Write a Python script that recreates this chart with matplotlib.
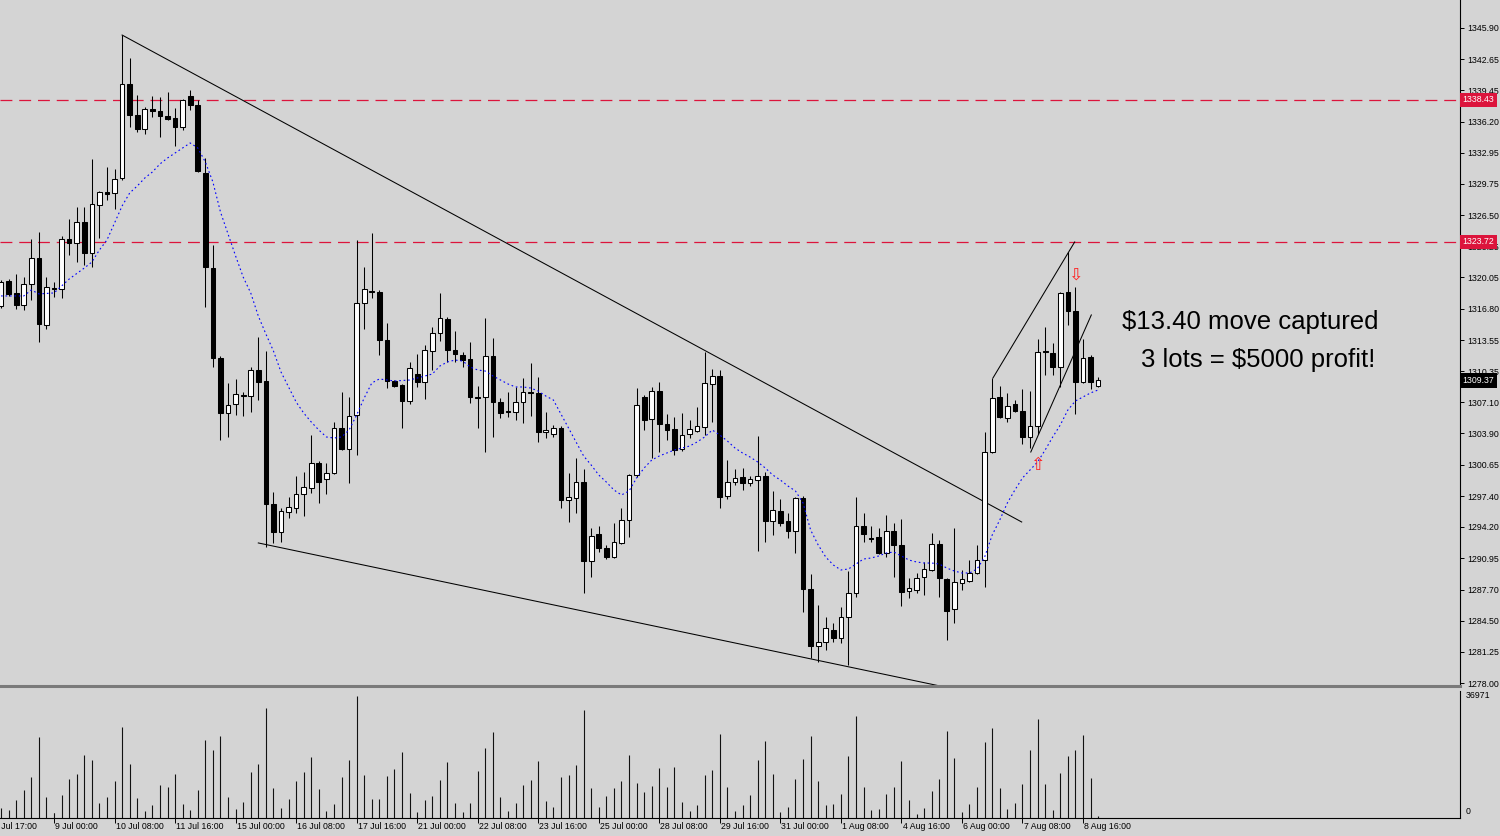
import matplotlib.pyplot as plt
import numpy as np

plt.rcParams['font.family'] = ['Liberation Sans', 'DejaVu Sans']

# H4 gold candles (bar index 0 = first bar on screen)
opens = [1317.09, 1319.68, 1318.44, 1317.19, 1319.37, 1322.06, 1315.12, 1318.96, 1318.85, 1324.03,
         1323.62, 1325.79, 1322.58, 1327.55, 1328.90, 1328.80, 1330.35, 1340.09, 1336.88, 1335.42,
         1337.50, 1337.29, 1336.77, 1336.57, 1335.63, 1338.84, 1337.91, 1330.87, 1321.02, 1311.70,
         1306.00, 1306.94, 1307.87, 1307.76, 1310.46, 1309.32, 1296.58, 1293.67, 1295.75, 1296.16,
         1297.61, 1298.23, 1300.82, 1299.17, 1299.79, 1304.45, 1302.27, 1305.80, 1317.40, 1318.64,
         1318.54, 1313.57, 1309.32, 1308.90, 1307.25, 1310.04, 1309.21, 1312.43, 1314.29, 1315.74,
         1312.53, 1312.01, 1311.60, 1307.66, 1307.66, 1311.91, 1307.14, 1306.21, 1306.11, 1307.14,
         1308.18, 1308.08, 1304.03, 1303.83, 1304.45, 1296.99, 1297.20, 1298.85, 1290.67, 1293.47,
         1292.02, 1291.08, 1292.54, 1294.92, 1299.58, 1307.66, 1305.38, 1308.28, 1304.86, 1304.35,
         1302.27, 1303.83, 1304.14, 1304.55, 1309.01, 1309.84, 1297.40, 1298.85, 1299.37, 1298.75,
         1299.06, 1299.48, 1294.81, 1295.85, 1294.81, 1293.78, 1297.20, 1287.77, 1281.86, 1282.28,
         1283.52, 1282.69, 1284.87, 1287.36, 1294.30, 1293.05, 1293.16, 1291.50, 1293.78, 1292.33,
         1287.56, 1287.67, 1289.01, 1289.74, 1292.43, 1288.80, 1285.70, 1288.39, 1288.60, 1289.43,
         1290.77, 1301.96, 1307.66, 1305.49, 1306.94, 1306.21, 1303.52, 1304.66, 1312.43, 1312.22,
         1310.77, 1318.54, 1316.57, 1309.21, 1311.80, 1308.80]
highs = [1319.78, 1319.88, 1320.41, 1320.09, 1324.03, 1324.75, 1320.09, 1319.57, 1324.34, 1326.10,
         1327.34, 1327.34, 1332.32, 1329.00, 1331.49, 1331.28, 1345.16, 1342.78, 1338.95, 1337.70,
         1338.84, 1338.74, 1339.26, 1337.60, 1338.53, 1339.47, 1338.43, 1332.42, 1323.41, 1311.91,
         1309.11, 1309.53, 1308.18, 1310.77, 1313.88, 1312.43, 1297.82, 1296.16, 1297.30, 1299.48,
         1299.89, 1303.72, 1301.03, 1300.82, 1305.07, 1308.18, 1307.66, 1323.93, 1321.13, 1324.65,
         1318.75, 1315.33, 1309.42, 1309.01, 1311.29, 1312.12, 1313.05, 1314.91, 1318.44, 1315.95,
         1314.50, 1312.32, 1313.36, 1308.80, 1315.85, 1313.77, 1307.56, 1308.18, 1308.70, 1309.63,
         1311.18, 1309.73, 1306.11, 1304.76, 1304.66, 1299.79, 1301.34, 1300.20, 1294.09, 1294.30,
         1292.33, 1294.61, 1296.16, 1299.68, 1308.59, 1307.87, 1308.70, 1309.21, 1305.90, 1305.59,
         1306.00, 1305.28, 1306.63, 1312.32, 1310.56, 1310.46, 1301.13, 1300.20, 1300.31, 1299.48,
         1303.62, 1299.89, 1297.92, 1297.09, 1295.64, 1297.30, 1297.40, 1289.32, 1286.11, 1284.87,
         1284.25, 1285.91, 1289.63, 1297.30, 1295.64, 1294.30, 1294.09, 1295.44, 1294.61, 1295.02,
         1288.91, 1289.43, 1290.57, 1293.57, 1292.85, 1288.91, 1294.09, 1289.74, 1290.77, 1292.33,
         1304.03, 1309.63, 1308.80, 1308.08, 1307.35, 1308.49, 1308.28, 1313.67, 1314.91, 1313.26,
         1318.54, 1322.68, 1319.06, 1313.67, 1312.01, 1309.73]
lows = [1316.88, 1318.13, 1316.77, 1316.67, 1317.71, 1313.36, 1314.70, 1318.02, 1317.92, 1322.37,
        1321.64, 1321.34, 1321.13, 1324.13, 1328.07, 1327.14, 1330.14, 1335.63, 1335.11, 1334.91,
        1336.67, 1334.60, 1336.36, 1333.66, 1335.32, 1337.39, 1330.97, 1316.98, 1310.77, 1303.21,
        1303.52, 1305.80, 1305.69, 1306.11, 1307.35, 1292.12, 1292.54, 1292.64, 1295.13, 1295.64,
        1295.33, 1297.72, 1296.68, 1297.61, 1299.68, 1302.17, 1298.75, 1301.65, 1314.70, 1317.92,
        1312.01, 1308.59, 1308.70, 1304.45, 1306.94, 1308.70, 1307.45, 1310.46, 1313.46, 1311.29,
        1311.29, 1310.77, 1307.04, 1304.45, 1301.96, 1303.52, 1305.49, 1305.59, 1305.28, 1304.97,
        1305.69, 1303.00, 1303.41, 1303.52, 1296.16, 1294.71, 1295.64, 1287.36, 1289.01, 1291.60,
        1290.88, 1290.98, 1292.43, 1293.16, 1299.37, 1304.24, 1301.34, 1301.96, 1303.21, 1301.65,
        1302.06, 1303.41, 1304.03, 1303.72, 1305.07, 1296.16, 1297.09, 1298.54, 1298.03, 1298.44,
        1291.71, 1292.64, 1293.36, 1294.30, 1293.05, 1291.50, 1285.39, 1280.62, 1280.21, 1281.45,
        1282.28, 1282.18, 1279.90, 1286.94, 1292.64, 1292.64, 1291.40, 1291.08, 1289.01, 1286.01,
        1286.84, 1287.36, 1287.15, 1289.63, 1286.94, 1282.49, 1284.25, 1287.67, 1288.49, 1289.32,
        1287.98, 1301.86, 1305.49, 1305.07, 1306.11, 1302.79, 1302.38, 1303.83, 1309.94, 1309.94,
        1308.70, 1315.12, 1305.90, 1309.11, 1308.49, 1308.70]
closes = [1319.57, 1318.34, 1317.19, 1319.37, 1322.06, 1315.23, 1319.06, 1318.85, 1324.03, 1323.62,
          1325.79, 1322.58, 1327.66, 1328.90, 1328.69, 1330.25, 1340.09, 1336.88, 1335.42, 1337.50,
          1337.29, 1336.77, 1336.46, 1335.63, 1338.43, 1337.91, 1331.07, 1321.13, 1311.70, 1306.00,
          1306.83, 1307.97, 1307.76, 1310.46, 1309.21, 1296.58, 1293.67, 1295.85, 1296.26, 1297.61,
          1298.34, 1300.82, 1298.85, 1299.79, 1304.45, 1302.27, 1305.69, 1317.40, 1318.85, 1318.54,
          1313.57, 1309.32, 1308.80, 1307.25, 1310.67, 1309.21, 1312.53, 1314.29, 1315.85, 1312.53,
          1312.12, 1311.49, 1307.66, 1307.56, 1311.91, 1307.14, 1306.00, 1306.11, 1307.14, 1308.18,
          1308.08, 1304.03, 1304.24, 1304.45, 1296.99, 1297.30, 1298.85, 1290.67, 1293.26, 1292.02,
          1291.08, 1292.64, 1294.92, 1299.58, 1306.83, 1305.28, 1308.28, 1304.86, 1304.24, 1302.17,
          1303.72, 1304.35, 1304.66, 1309.11, 1309.84, 1297.30, 1298.85, 1299.27, 1298.75, 1299.17,
          1299.48, 1294.81, 1295.95, 1294.61, 1293.78, 1297.20, 1287.77, 1281.86, 1282.28, 1283.73,
          1282.69, 1284.87, 1287.36, 1294.30, 1293.47, 1292.95, 1291.50, 1293.78, 1292.33, 1287.46,
          1287.87, 1288.91, 1289.84, 1292.43, 1288.91, 1285.49, 1288.49, 1288.80, 1289.43, 1290.77,
          1301.96, 1307.56, 1305.59, 1306.73, 1306.21, 1303.52, 1304.66, 1312.32, 1312.32, 1310.77,
          1318.44, 1316.57, 1309.21, 1311.70, 1309.21, 1309.37]
volumes = [2910, 2420, 5150, 8240, 12020, 23570, 6200, 1540, 6780, 11260,
           12890, 18330, 16970, 4280, 6200, 10680, 26570, 15630, 5730, 2120,
           3700, 9520, 9020, 12890, 3990, 2420, 8240, 22790, 19700, 23860,
           6200, 2710, 4570, 13390, 15630, 32100, 8730, 2910, 5440, 10680,
           13390, 17840, 8440, 2120, 3990, 12020, 16970, 35410, 12510, 5440,
           5440, 12310, 14260, 19210, 7360, 1830, 5150, 6490, 10970, 16210,
           4280, 1830, 4280, 13760, 20280, 24940, 6020, 2120, 4280, 9520,
           11150, 16670, 5030, 3200, 12020, 12600, 15510, 31520, 8730, 3200,
           6490, 8640, 10850, 18330, 10270, 7480, 9400, 14640, 8930, 14930,
           4740, 2120, 3700, 12510, 13880, 24360, 8930, 2040, 3700, 6780,
           16970, 22490, 12800, 1830, 3200, 11440, 17260, 23860, 10850, 3700,
           4070, 7070, 18040, 29590, 8930, 2330, 2710, 7070, 9020, 16670,
           5330, 1250, 2910, 7860, 11440, 25400, 17460, 1830, 3990, 8930,
           22200, 26280, 8640, 2620, 4450, 9980, 19880, 28810, 9980, 2330,
           13100, 18130, 19880, 24070, 11640, 670]

# moving average (blue dotted), read at these bars
ma_idx = [0, 3, 4, 5, 7, 9] + list(range(11, 51)) + [52, 54, 55] + list(range(57, 146))
ma_val = [1318.13, 1318.13, 1318.75, 1318.34, 1318.44, 1319.88,
          1321.02, 1321.64, 1322.89, 1323.93, 1325.69, 1327.45, 1328.80, 1329.52, 1330.35, 1330.97,
          1331.80, 1332.42, 1332.94, 1333.46, 1333.98, 1333.46, 1332.01, 1329.93, 1326.83, 1324.55,
          1322.27, 1320.09, 1318.44, 1316.05, 1314.19, 1312.43, 1310.25, 1308.70, 1307.14, 1306.00,
          1305.07, 1304.24, 1303.52, 1303.41, 1303.52, 1304.24, 1305.80, 1307.56, 1309.11, 1309.53,
          1309.32, 1309.42, 1309.63,
          1310.04, 1310.87, 1311.29, 1311.49, 1311.39, 1310.77, 1310.46, 1310.35, 1309.84, 1309.42,
          1309.01, 1308.70, 1308.70, 1308.59, 1308.28, 1307.76, 1307.35, 1305.90, 1304.45, 1303.00,
          1301.55, 1300.61, 1299.58, 1298.85, 1298.03, 1297.51, 1297.92, 1299.27, 1300.31, 1301.13,
          1301.55, 1301.86, 1302.17, 1302.38, 1302.58, 1303.00, 1303.52, 1304.24, 1303.72, 1303.10,
          1302.38, 1301.86, 1301.44, 1300.93, 1300.31, 1299.58, 1299.06, 1298.44, 1297.92, 1296.68,
          1293.88, 1292.33, 1291.08, 1290.26, 1289.74, 1289.84, 1290.36, 1290.88, 1290.98, 1291.19,
          1291.50, 1291.60, 1291.19, 1290.77, 1290.57, 1290.46, 1290.46, 1290.36, 1289.94, 1289.63,
          1289.43, 1289.43, 1289.84, 1291.08, 1293.36, 1294.92, 1296.68, 1298.03, 1299.27, 1300.10,
          1300.93, 1302.17, 1303.52, 1304.76, 1306.31, 1307.25, 1307.66, 1308.08, 1308.39]

time_labels = ['8 Jul 17:00', '9 Jul 00:00', '10 Jul 08:00', '11 Jul 16:00', '15 Jul 00:00',
               '16 Jul 08:00', '17 Jul 16:00', '21 Jul 00:00', '22 Jul 08:00', '23 Jul 16:00',
               '25 Jul 00:00', '28 Jul 08:00', '29 Jul 16:00', '31 Jul 00:00', '1 Aug 08:00',
               '4 Aug 16:00', '6 Aug 00:00', '7 Aug 08:00', '8 Aug 16:00']
label_idx = [-1.1] + [7 + 8 * k for k in range(18)]

price_ticks = [1345.90, 1342.65, 1339.45, 1336.20, 1332.95, 1329.75, 1326.50, 1323.25, 1320.05,
               1316.80, 1313.55, 1310.35, 1307.10, 1303.90, 1300.65, 1297.40, 1294.20, 1290.95,
               1287.70, 1284.50, 1281.25, 1278.00]
levels = [1338.43, 1323.72]
last_price = 1309.37
vol_max = 36971

# drawn trend lines: (bar, price) -> (bar, price)
trendlines = [(16, 1345.16, 134.9, 1294.71),
              (34, 1292.54, 124.1, 1277.72),
              (131.1, 1309.63, 141.9, 1323.72),
              (136.1, 1301.96, 144.1, 1316.16)]
arrow_idx = [142, 137]
arrow_price = [1320.3, 1300.6]
arrow_sym = ['\u21e9', '\u21e7']

bg = '#d4d4d4'
fig = plt.figure(figsize=(15, 8.36), dpi=100, facecolor=bg)
ax = fig.add_axes([0, 150 / 836, 1460 / 1500, 686 / 836], facecolor=bg)
axv = fig.add_axes([0, 18 / 836, 1460 / 1500, 127 / 836], facecolor=bg)

x = np.arange(len(opens))
o = np.array(opens); h = np.array(highs); l = np.array(lows); c = np.array(closes)
up = c > o
lo = np.minimum(o, c)
bh = np.maximum(np.abs(c - o), 0.1)

ax.vlines(x, l, h, color='black', lw=0.75, zorder=3)
ax.bar(x[up], bh[up], bottom=lo[up], width=0.62, color='white', edgecolor='black', linewidth=0.75, zorder=4)
ax.bar(x[~up], bh[~up], bottom=lo[~up], width=0.62, color='black', edgecolor='black', linewidth=0.75, zorder=4)

ax.plot(ma_idx, ma_val, color='#0000ff', lw=0.8, dashes=(1.5, 2.5), zorder=5)

for v in levels:
    ax.axhline(v, color='#dc143c', lw=0.9, dashes=(9.5, 5.5), zorder=2)

for x0, p0, x1, p1 in trendlines:
    ax.plot([x0, x1], [p0, p1], color='black', lw=0.75, zorder=2)

for xi, pi, s in zip(arrow_idx, arrow_price, arrow_sym):
    ax.text(xi, pi, s, color='#ff2020', fontsize=12.5, ha='center', va='center', family='DejaVu Sans', zorder=6)

ax.text(148.2, 1315.43, '$13.40 move captured', fontsize=18.5, ha='left', va='center')
ax.text(150.7, 1311.49, '3 lots = $5000 profit!', fontsize=18.5, ha='left', va='center')

ax.set_xlim(-0.14, 192.83)
ax.set_ylim(1277.72, 1348.79)
ax.set_xticks([])
ax.yaxis.tick_right()
ax.set_yticks(price_ticks)
ax.set_yticklabels(['%.2f' % v for v in price_ticks])
ax.tick_params(axis='y', direction='out', length=3, width=0.7, pad=2, labelsize=6.3)
for s in ['left', 'top']:
    ax.spines[s].set_visible(False)
ax.spines['right'].set_color('black')
ax.spines['right'].set_linewidth(0.8)
ax.spines['bottom'].set_color('#7a7a7a')
ax.spines['bottom'].set_linewidth(2.2)

# price boxes on the right scale
for v in levels:
    ax.text(1.0016, v, '%.2f' % v, transform=ax.get_yaxis_transform(), color='white', fontsize=6.3,
            ha='left', va='center', zorder=7, clip_on=False,
            bbox=dict(boxstyle='square,pad=0.3', fc='#dc143c', ec='none'))
ax.text(1.0016, last_price, '%.2f' % last_price, transform=ax.get_yaxis_transform(), color='white',
        fontsize=6.3, ha='left', va='center', zorder=7, clip_on=False,
        bbox=dict(boxstyle='square,pad=0.3', fc='black', ec='none'))

# volumes
axv.vlines(x, 0, volumes, color='#111111', lw=0.8)
axv.set_xlim(-0.14, 192.83)
axv.set_ylim(0, vol_max)
axv.set_yticks([])
axv.set_xticks(label_idx[1:])
axv.tick_params(axis='x', direction='inout', length=7, width=0.7, labelbottom=False)
for s in ['left', 'top']:
    axv.spines[s].set_visible(False)
for s in ['right', 'bottom']:
    axv.spines[s].set_color('black')
    axv.spines[s].set_linewidth(0.8)
axv.text(1.004, 1.0, str(vol_max), transform=axv.transAxes, fontsize=6.3, ha='left', va='top')
axv.text(1.004, 0.05, '0', transform=axv.transAxes, fontsize=6.3, ha='left', va='center')

for xi, lab in zip(label_idx, time_labels):
    axv.text(xi + 0.15, -0.07, lab, transform=axv.get_xaxis_transform(), fontsize=6.3,
             ha='left', va='center')

fig.savefig('out.png', dpi=100, facecolor=bg)
